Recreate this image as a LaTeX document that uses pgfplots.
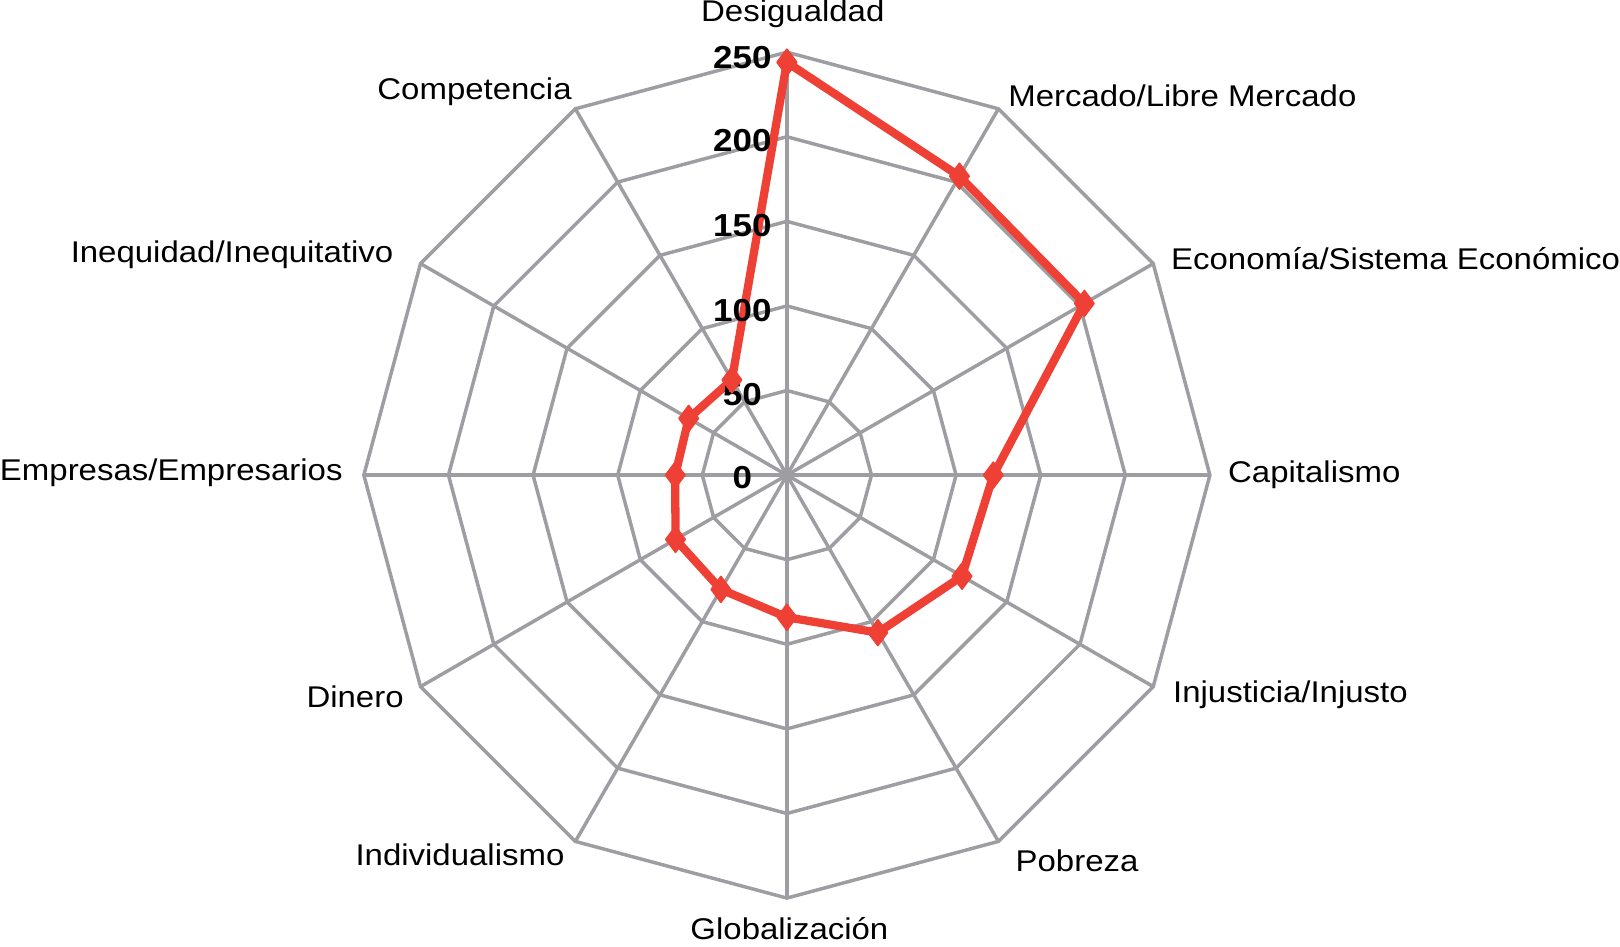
\documentclass[border=0pt]{standalone}
\usepackage{fontspec}
\setmainfont{Liberation Sans}[FakeStretch=1.1]
\usepackage{pgfplots}
\pgfplotsset{compat=1.18}
\usepgfplotslibrary{polar}
\definecolor{gridgray}{RGB}{158,158,162}
\definecolor{radred}{RGB}{238,64,52}
\begin{document}
\begin{tikzpicture}
\begin{axis}[
  width=491pt, height=286.6pt, scale only axis,
  xmin=-465.7, xmax=495.1, ymin=-281.5, ymax=279.4,
  hide axis, clip=false,
  every axis plot/.append style={data cs=polar},
]
% rings
\addplot[gridgray, line width=1.05pt, line join=miter] coordinates {(90,50) (60,50) (30,50) (0,50) (-30,50) (-60,50) (-90,50) (-120,50) (-150,50) (180,50) (150,50) (120,50) (90,50)};
\addplot[gridgray, line width=1.05pt, line join=miter] coordinates {(90,100) (60,100) (30,100) (0,100) (-30,100) (-60,100) (-90,100) (-120,100) (-150,100) (180,100) (150,100) (120,100) (90,100)};
\addplot[gridgray, line width=1.05pt, line join=miter] coordinates {(90,150) (60,150) (30,150) (0,150) (-30,150) (-60,150) (-90,150) (-120,150) (-150,150) (180,150) (150,150) (120,150) (90,150)};
\addplot[gridgray, line width=1.05pt, line join=miter] coordinates {(90,200) (60,200) (30,200) (0,200) (-30,200) (-60,200) (-90,200) (-120,200) (-150,200) (180,200) (150,200) (120,200) (90,200)};
\addplot[gridgray, line width=1.05pt, line join=miter] coordinates {(90,250) (60,250) (30,250) (0,250) (-30,250) (-60,250) (-90,250) (-120,250) (-150,250) (180,250) (150,250) (120,250) (90,250)};
% spokes
\addplot[gridgray, line width=1.05pt] coordinates {(90,250) (-90,250)};
\addplot[gridgray, line width=1.05pt] coordinates {(60,250) (-120,250)};
\addplot[gridgray, line width=1.05pt] coordinates {(30,250) (-150,250)};
\addplot[gridgray, line width=1.05pt] coordinates {(0,250) (180,250)};
\addplot[gridgray, line width=1.05pt] coordinates {(-30,250) (150,250)};
\addplot[gridgray, line width=1.05pt] coordinates {(-60,250) (120,250)};
% data
\addplot[radred, line width=2.5pt, line join=round, mark=diamond*, mark size=3.9pt, mark options={solid, fill=radred, draw=radred, line width=0.5pt}] coordinates {
(90,244) (60,204) (30,203) (0,122) (-30,119.5) (-60,107.5) (-90,84) (-120,78) (-150,76) (180,66) (150,67) (120,65) (90,244)};
% radial tick labels
\foreach \v/\yy in {0/-1.5,50/47.5,100/97.5,150/147.5,200/197.5,250/247} {
  \edef\tmp{\noexpand\node[font=\noexpand\fontsize{9.6}{10}\noexpand\selectfont\noexpand\bfseries, anchor=center, inner sep=0pt] at (axis cs:-26.3,\yy) {\v};}
  \tmp
}
% category labels
\begin{scope}[every node/.style={font=\fontsize{9.05}{10}\selectfont, inner sep=0pt}]
\node[anchor=base] at (axis cs:3.5,268) {Desigualdad};
\node[anchor=west] at (axis cs:130.5,224.3) {Mercado/Libre Mercado};
\node[anchor=west] at (axis cs:226.7,128.1) {Economía/Sistema Económico};
\node[anchor=west] at (axis cs:260.4,0) {Capitalismo};
\node[anchor=west] at (axis cs:227.9,-129.9) {Injusticia/Injusto};
\node[anchor=west] at (axis cs:134.8,-227.9) {Pobreza};
\node[anchor=base, inner ysep=2pt] at (axis cs:1.5,-274.5) {Globalización};
\node[anchor=east] at (axis cs:-131.1,-224.2) {Individualismo};
\node[anchor=east] at (axis cs:-226.1,-131.1) {Dinero};
\node[anchor=east] at (axis cs:-262.2,1.2) {Empresas/Empresarios};
\node[anchor=east] at (axis cs:-232.2,130.5) {Inequidad/Inequitativo};
\node[anchor=east] at (axis cs:-126.8,226.7) {Competencia};
\end{scope}
\end{axis}
\end{tikzpicture}
\end{document}
